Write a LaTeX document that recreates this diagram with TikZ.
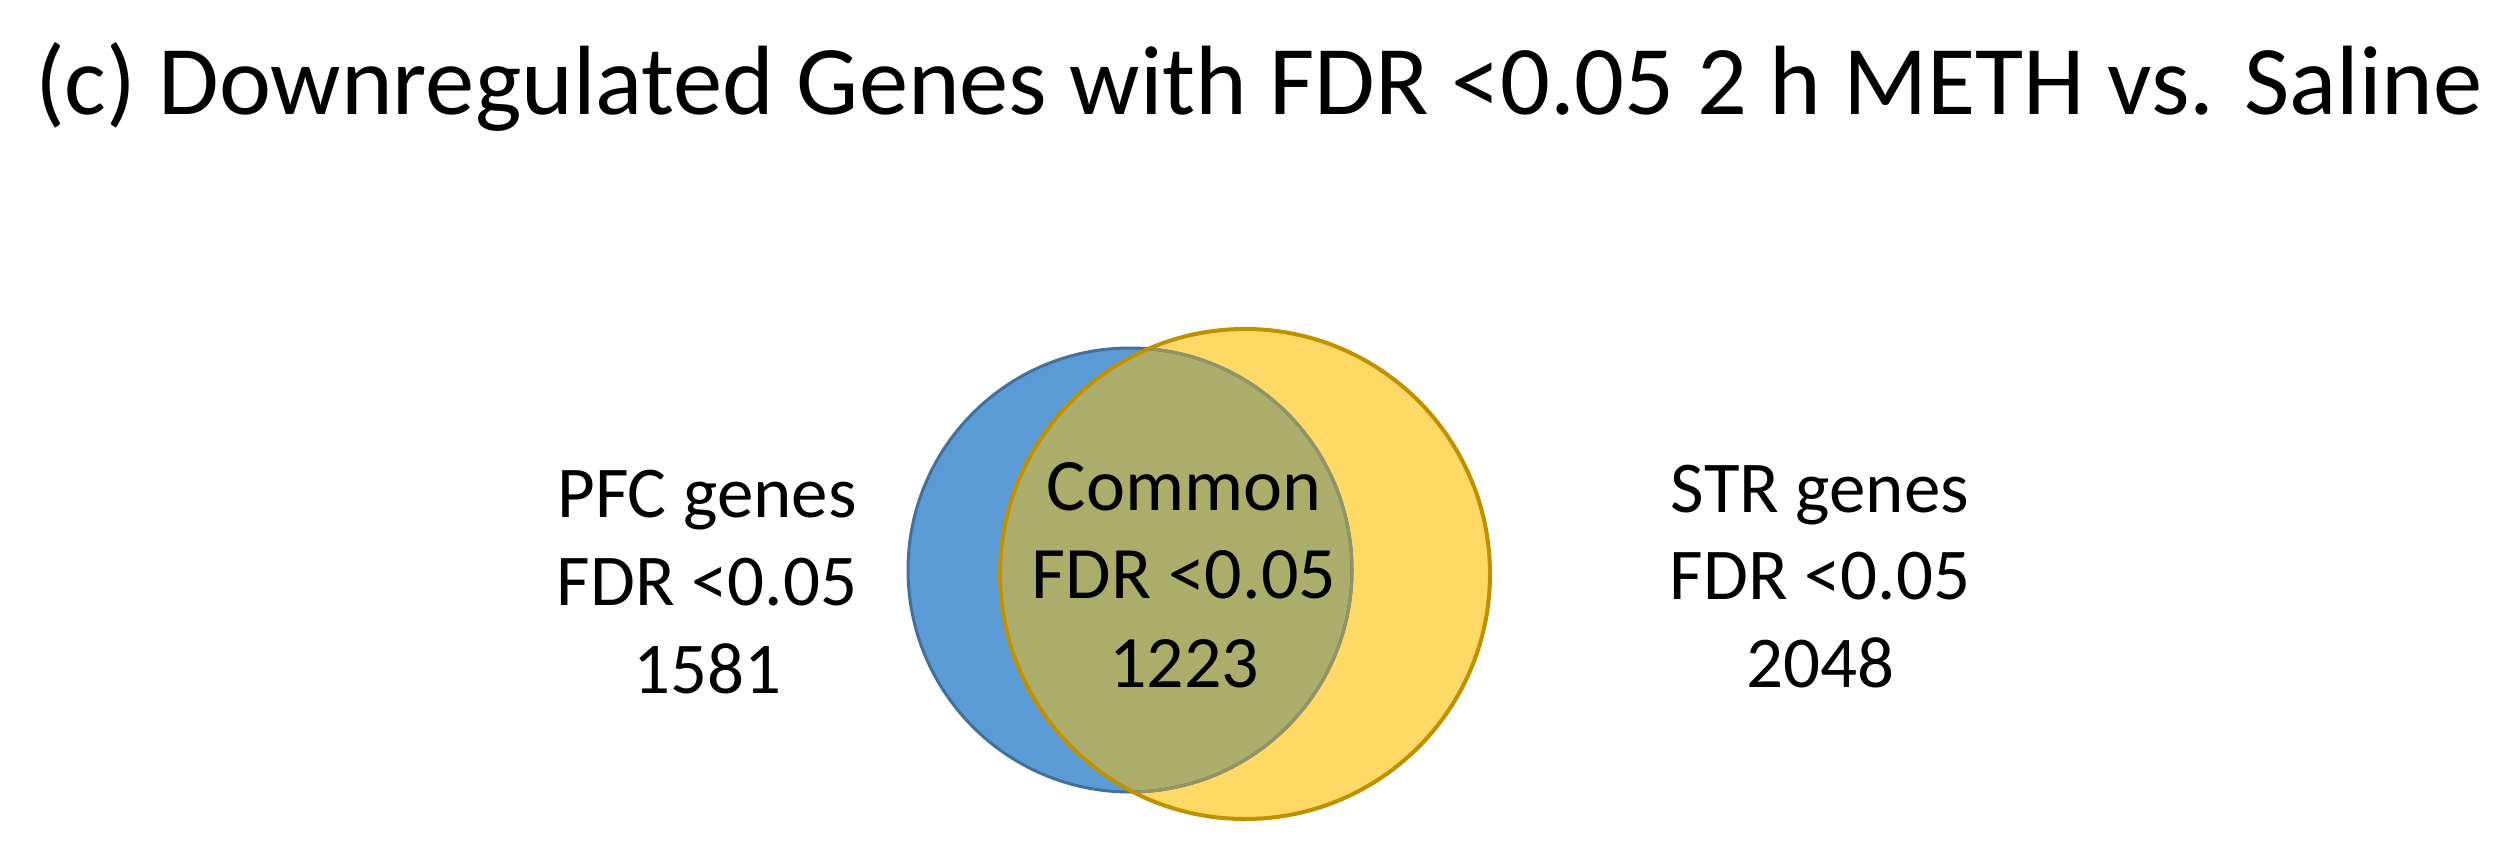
\documentclass[tikz,border=0pt]{standalone}
\usepackage{fontspec}
\setmainfont{Carlito}
\definecolor{bluefill}{HTML}{5B9BD5}
\definecolor{blueline}{HTML}{41719C}
\definecolor{yellowfill}{HTML}{FFD966}
\definecolor{goldline}{HTML}{BF9000}
\definecolor{overlapfill}{HTML}{ADAD6B}
\definecolor{overlapline}{HTML}{929462}
\tikzset{
  ttl/.style={font=\fontsize{98.5}{110}\selectfont, anchor=base, inner sep=0pt},
  lbl/.style={font=\fontsize{73}{85}\selectfont, anchor=base, inner sep=0pt},
  com/.style={font=\fontsize{74}{85}\selectfont, anchor=base, inner sep=0pt},
}
\begin{document}
\begin{tikzpicture}[x=1pt,y=-1pt]
\useasboundingbox (0,0) rectangle (2512,860);
\fill[white] (0,0) rectangle (2512,860);
\coordinate (bc) at (1130,570);
\coordinate (yc) at (1245,574);
% sets
\fill[bluefill] (bc) circle (222);
\fill[yellowfill] (yc) circle (245);
\begin{scope}
  \clip (bc) circle (222);
  \fill[overlapfill] (yc) circle (245);
\end{scope}
\draw[blueline, line width=3pt] (bc) circle (222);
\begin{scope}
  \clip (yc) circle (243);
  \draw[overlapline, line width=3pt] (bc) circle (222);
\end{scope}
\draw[goldline, line width=4pt] (yc) circle (245);
% title
\node[ttl] (title) at (1259,114) {(c) Downregulated Genes with FDR <0.05 2 h METH vs. Saline};
% left label
\node[lbl] (pfc1) at (707,517) {PFC genes};
\node[lbl] (pfc2) at (707,605) {FDR <0.05};
\node[lbl] (pfc3) at (707,693) {1581};
% right label
\node[lbl] (str1) at (1820,512) {STR genes};
\node[lbl] (str2) at (1820,599) {FDR <0.05};
\node[lbl] (str3) at (1820,687) {2048};
% common
\node[com] (com1) at (1184,510) {Common};
\node[com] (com2) at (1184,598) {FDR <0.05};
\node[com] (com3) at (1184,687) {1223};
\end{tikzpicture}
\end{document}
